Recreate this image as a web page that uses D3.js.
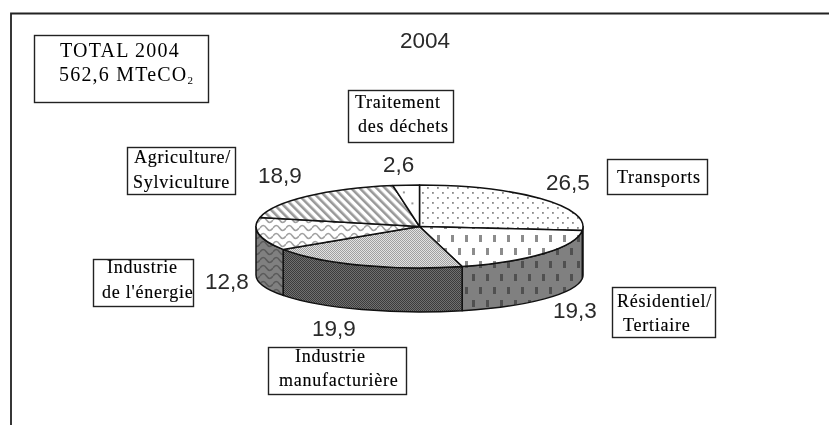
<!DOCTYPE html>
<html>
<head>
<meta charset="utf-8">
<script src="https://d3js.org/d3.v7.min.js"></script>
<style>
  html, body { margin: 0; padding: 0; background: #fff; }
  svg { display: block; filter: blur(0.35px); }
  .box { font-family: "Liberation Serif", serif; font-size: 18px; letter-spacing: 0.75px; fill: #000; stroke: #000; stroke-width: 0.15px; }
  .big { font-size: 20px; letter-spacing: 1.2px; stroke-width: 0; }
  .val { font-family: "Liberation Sans", sans-serif; font-size: 22.5px; fill: #2a2a2a; }
</style>
</head>
<body>
<script>
const sectors = ["Transports", "Résidentiel/Tertiaire", "Industrie manufacturière", "Industrie de l'énergie", "Agriculture/Sylviculture", "Traitement des déchets"];
const values = [26.5, 19.3, 19.9, 12.8, 18.9, 2.6];
const valueLabels = ["26,5", "19,3", "19,9", "12,8", "18,9", "2,6"];
const title = "2004";
const totalLines = ["TOTAL 2004", "562,6 MTeCO"];

const width = 829, height = 425;
const cx = 419.5, cy = 226.5, rx = 163.5, ry = 41.5;
const cyLow = 275, ryLow = 37;

const svg = d3.select("body").append("svg").attr("width", width).attr("height", height);
const defs = svg.append("defs");

function tile(id, w, h, bg, transform) {
  const p = defs.append("pattern").attr("id", id).attr("patternUnits", "userSpaceOnUse")
    .attr("width", w).attr("height", h);
  if (transform) p.attr("patternTransform", transform);
  p.append("rect").attr("width", w).attr("height", h).attr("fill", bg);
  return p;
}
function dots(id, w, h, bg, ink, size) {
  const p = tile(id, w, h, bg);
  [[w * 0.2, h * 0.2], [w * 0.7, h * 0.7]].forEach(d => {
    p.append("rect").attr("x", d[0]).attr("y", d[1]).attr("width", size).attr("height", size).attr("fill", ink);
  });
}
function dashes(id, bg, ink) {
  const p = tile(id, 14, 26, bg);
  [[3, 1], [10, 14]].forEach(d => {
    p.append("rect").attr("x", d[0]).attr("y", d[1]).attr("width", 3).attr("height", 7).attr("fill", ink);
  });
}
function checker(id, bg, ink) {
  const p = tile(id, 2, 2, bg);
  [[0, 0], [1, 1]].forEach(d => {
    p.append("rect").attr("x", d[0]).attr("y", d[1]).attr("width", 1).attr("height", 1).attr("fill", ink);
  });
}
function waves(id, bg, ink) {
  const p = tile(id, 13, 8, bg);
  p.append("path").attr("d", "M0,4 Q3.25,-1 6.5,4 T13,4").attr("fill", "none")
    .attr("stroke", ink).attr("stroke-width", 1.5);
}

dots("dotsTop", 10, 10, "#fff", "#8a8a8a", 1.8);
dots("dotsSide", 10, 10, "#999", "#555", 1.8);
dashes("dashTop", "#fff", "#8c8c8c");
dashes("dashSide", "#808080", "#505050");
checker("checkTop", "#e2e2e2", "#a0a0a0");
checker("checkSide", "#707070", "#3c3c3c");
waves("waveTop", "#fff", "#a0a0a0");
waves("waveSide", "#808080", "#5a5a5a");
const stripe = tile("stripeTop", 6, 6, "#fff", "rotate(-45)");
stripe.append("rect").attr("width", 2.6).attr("height", 6).attr("fill", "#999");
dots("sparse", 17, 22, "#fff", "#999", 2);

const topFill = ["dotsTop", "dashTop", "checkTop", "waveTop", "stripeTop", "sparse"];
const sideFill = ["dotsSide", "dashSide", "checkSide", "waveSide", "stripeTop", "sparse"];

// page frame, only top and left edges are in the picture
svg.append("path").attr("d", `M11,${height} V13.5 H${width}`).attr("fill", "none")
  .attr("stroke", "#222").attr("stroke-width", 1.8);

const pie = d3.pie().value(d => d).sort(null)(values);

const onTop = a => [cx + rx * Math.sin(a), cy - ry * Math.cos(a)];
const onLow = a => [cx + rx * Math.sin(a), cyLow - ryLow * Math.cos(a)];

function topPath(d) {
  const a = onTop(d.startAngle), b = onTop(d.endAngle);
  const big = d.endAngle - d.startAngle > Math.PI ? 1 : 0;
  return `M${cx},${cy} L${a} A${rx},${ry} 0 ${big} 1 ${b} Z`;
}
// wall only exists on the front half of the ellipse
function sidePath(d) {
  const a0 = Math.max(d.startAngle, Math.PI / 2), a1 = Math.min(d.endAngle, 3 * Math.PI / 2);
  if (a1 <= a0) return null;
  return `M${onTop(a0)} A${rx},${ry} 0 0 1 ${onTop(a1)} L${onLow(a1)} A${rx},${ryLow} 0 0 0 ${onLow(a0)} Z`;
}

const chart = svg.append("g").attr("stroke", "#111").attr("stroke-width", 1.5).attr("stroke-linejoin", "round");
chart.selectAll(".side").data(pie.filter(sidePath)).enter().append("path")
  .attr("class", "side").attr("d", sidePath).attr("fill", d => `url(#${sideFill[d.index]})`);
chart.selectAll(".top").data(pie).enter().append("path")
  .attr("class", "top").attr("d", topPath).attr("fill", d => `url(#${topFill[d.index]})`);

// value labels
const valuePos = [[546, 190], [553, 318], [312, 336], [205, 289], [258, 183], [383, 172]];
svg.selectAll(".val").data(valueLabels).enter().append("text")
  .attr("class", "val").attr("x", (d, i) => valuePos[i][0]).attr("y", (d, i) => valuePos[i][1]).text(d => d);
svg.append("text").attr("class", "val").attr("x", 400).attr("y", 48).text(title);

// captions in their boxes
const boxes = [
  { r: [607, 159, 100, 35], lines: [["Transports", 617, 183]] },
  { r: [612, 287, 103, 50], lines: [["Résidentiel/", 617, 307], ["Tertiaire", 623, 331]] },
  { r: [268, 347, 138, 47], lines: [["Industrie", 295, 362], ["manufacturière", 279, 386]] },
  { r: [93, 259, 100, 47], lines: [["Industrie", 107, 273], ["de l'énergie", 102, 298]] },
  { r: [127, 147, 108, 47], lines: [["Agriculture/", 134, 163], ["Sylviculture", 133, 188]] },
  { r: [348, 90, 105, 52], lines: [["Traitement", 355, 108], ["des déchets", 358, 132]] }
];
boxes.forEach(b => {
  const g = svg.append("g");
  g.append("rect").attr("x", b.r[0] + 0.5).attr("y", b.r[1] + 0.5).attr("width", b.r[2]).attr("height", b.r[3])
    .attr("fill", "#fff").attr("stroke", "#222").attr("stroke-width", 1.4);
  b.lines.forEach(l => {
    g.append("text").attr("class", "box").attr("x", l[1]).attr("y", l[2]).text(l[0]);
  });
});

// total box
const total = svg.append("g");
total.append("rect").attr("x", 34.5).attr("y", 35.5).attr("width", 174).attr("height", 67)
  .attr("fill", "#fff").attr("stroke", "#222").attr("stroke-width", 1.4);
total.append("text").attr("class", "box big").attr("x", 60).attr("y", 57).text(totalLines[0]);
const t2 = total.append("text").attr("class", "box big").attr("x", 59).attr("y", 81).text(totalLines[1]);
t2.append("tspan").attr("dy", 3).style("font-size", "11px").text("2");
</script>
</body>
</html>
